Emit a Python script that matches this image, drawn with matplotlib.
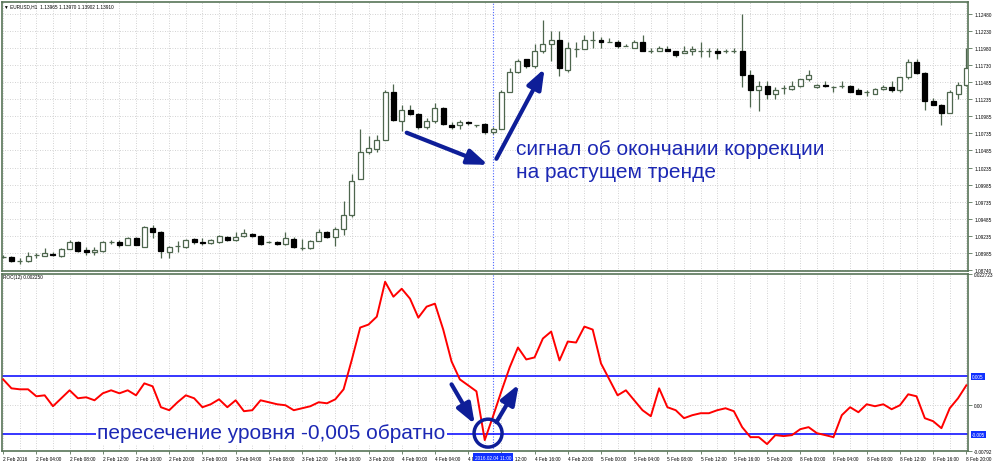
import numpy as np
import matplotlib.pyplot as plt
from matplotlib.patches import Ellipse
from matplotlib.transforms import blended_transform_factory, Bbox

plt.rcParams['font.family'] = ['Liberation Sans', 'DejaVu Sans']

# EURUSD H1 candles, 2 Feb 2016 00:00 .. 8 Feb 2016 20:00
opens = [1.0893, 1.0893, 1.0887, 1.0887, 1.0896, 1.0895, 1.0897, 1.0895, 1.0905, 1.0915,
         1.0903, 1.0900, 1.0902, 1.0915, 1.0915, 1.0911, 1.0921, 1.0908, 1.0936, 1.0930,
         1.0900, 1.0909, 1.0908, 1.0920, 1.0915, 1.0914, 1.0915, 1.0922, 1.0918, 1.0924,
         1.0927, 1.0924, 1.0915, 1.0915, 1.0912, 1.0920, 1.0906, 1.0906, 1.0917, 1.0930,
         1.0922, 1.0934, 1.0955, 1.1007, 1.1046, 1.1051, 1.1064, 1.1134, 1.1092, 1.1108,
         1.1102, 1.1082, 1.1092, 1.1111, 1.1086, 1.1085, 1.1090, 1.1086, 1.1087, 1.1076,
         1.1080, 1.1134, 1.1163, 1.1181, 1.1171, 1.1193, 1.1203, 1.1210, 1.1166, 1.1197,
         1.1197, 1.1210, 1.1210, 1.1207, 1.1206, 1.1200, 1.1198, 1.1206, 1.1194, 1.1193,
         1.1197, 1.1194, 1.1190, 1.1193, 1.1194, 1.1193, 1.1194, 1.1194, 1.1194, 1.1194,
         1.1159, 1.1136, 1.1143, 1.1130, 1.1140, 1.1138, 1.1143, 1.1152, 1.1141, 1.1144,
         1.1141, 1.1143, 1.1143, 1.1136, 1.1133, 1.1131, 1.1138, 1.1141, 1.1136, 1.1155,
         1.1178, 1.1162, 1.1121, 1.1115, 1.1103, 1.1131, 1.1144]
highs = [1.0896, 1.0895, 1.0892, 1.0900, 1.0899, 1.0906, 1.0900, 1.0906, 1.0918, 1.0917,
         1.0908, 1.0908, 1.0917, 1.0918, 1.0918, 1.0922, 1.0922, 1.0939, 1.0940, 1.0931,
         1.0909, 1.0917, 1.0920, 1.0921, 1.0921, 1.0920, 1.0925, 1.0924, 1.0930, 1.0934,
         1.0928, 1.0925, 1.0917, 1.0917, 1.0930, 1.0922, 1.0920, 1.0918, 1.0934, 1.0931,
         1.0937, 1.0975, 1.1014, 1.1080, 1.1070, 1.1071, 1.1136, 1.1146, 1.1114, 1.1114,
         1.1103, 1.1096, 1.1117, 1.1112, 1.1090, 1.1093, 1.1092, 1.1086, 1.1089, 1.1082,
         1.1136, 1.1168, 1.1182, 1.1182, 1.1204, 1.1238, 1.1222, 1.1222, 1.1207, 1.1207,
         1.1216, 1.1222, 1.1214, 1.1213, 1.1209, 1.1204, 1.1209, 1.1216, 1.1198, 1.1201,
         1.1200, 1.1194, 1.1200, 1.1200, 1.1207, 1.1198, 1.1198, 1.1197, 1.1198, 1.1247,
         1.1165, 1.1150, 1.1149, 1.1141, 1.1144, 1.1149, 1.1153, 1.1165, 1.1146, 1.1149,
         1.1143, 1.1149, 1.1144, 1.1139, 1.1136, 1.1140, 1.1144, 1.1150, 1.1156, 1.1182,
         1.1181, 1.1163, 1.1125, 1.1116, 1.1136, 1.1148, 1.1198]
lows = [1.0892, 1.0886, 1.0883, 1.0886, 1.0892, 1.0895, 1.0895, 1.0893, 1.0905, 1.0900,
        1.0896, 1.0896, 1.0900, 1.0912, 1.0908, 1.0911, 1.0911, 1.0908, 1.0921, 1.0892,
        1.0892, 1.0900, 1.0906, 1.0912, 1.0911, 1.0912, 1.0914, 1.0917, 1.0917, 1.0922,
        1.0922, 1.0911, 1.0914, 1.0911, 1.0911, 1.0906, 1.0903, 1.0905, 1.0917, 1.0921,
        1.0909, 1.0925, 1.0952, 1.1007, 1.1043, 1.1046, 1.1064, 1.1092, 1.1077, 1.1100,
        1.1080, 1.1080, 1.1089, 1.1086, 1.1079, 1.1080, 1.1086, 1.1083, 1.1073, 1.1073,
        1.1079, 1.1133, 1.1162, 1.1169, 1.1169, 1.1190, 1.1179, 1.1157, 1.1163, 1.1185,
        1.1197, 1.1198, 1.1198, 1.1206, 1.1198, 1.1200, 1.1198, 1.1194, 1.1191, 1.1193,
        1.1193, 1.1185, 1.1190, 1.1188, 1.1184, 1.1184, 1.1182, 1.1190, 1.1191, 1.1141,
        1.1112, 1.1106, 1.1124, 1.1124, 1.1130, 1.1137, 1.1141, 1.1150, 1.1140, 1.1141,
        1.1134, 1.1140, 1.1133, 1.1130, 1.1128, 1.1130, 1.1137, 1.1134, 1.1134, 1.1153,
        1.1160, 1.1108, 1.1114, 1.1086, 1.1103, 1.1124, 1.1142]
closes = [1.0893, 1.0887, 1.0887, 1.0895, 1.0896, 1.0899, 1.0896, 1.0905, 1.0915, 1.0902,
          1.0900, 1.0903, 1.0915, 1.0915, 1.0911, 1.0921, 1.0911, 1.0937, 1.0930, 1.0902,
          1.0908, 1.0909, 1.0918, 1.0915, 1.0914, 1.0918, 1.0924, 1.0918, 1.0922, 1.0928,
          1.0924, 1.0912, 1.0915, 1.0912, 1.0921, 1.0908, 1.0906, 1.0917, 1.0930, 1.0922,
          1.0934, 1.0955, 1.1004, 1.1046, 1.1052, 1.1064, 1.1134, 1.1093, 1.1108, 1.1102,
          1.1082, 1.1092, 1.1111, 1.1087, 1.1083, 1.1090, 1.1089, 1.1086, 1.1076, 1.1080,
          1.1134, 1.1163, 1.1179, 1.1171, 1.1193, 1.1203, 1.1210, 1.1168, 1.1198, 1.1197,
          1.1210, 1.1210, 1.1206, 1.1207, 1.1200, 1.1200, 1.1206, 1.1194, 1.1194, 1.1198,
          1.1194, 1.1188, 1.1193, 1.1196, 1.1194, 1.1193, 1.1191, 1.1194, 1.1194, 1.1159,
          1.1136, 1.1143, 1.1130, 1.1137, 1.1140, 1.1143, 1.1152, 1.1158, 1.1144, 1.1143,
          1.1141, 1.1143, 1.1134, 1.1131, 1.1133, 1.1138, 1.1141, 1.1136, 1.1155, 1.1178,
          1.1162, 1.1121, 1.1115, 1.1103, 1.1133, 1.1144, 1.1169]

# ROC(12) indicator
roc = [0.00448, 0.00293, 0.00276, 0.00276, 0.00155, 0.00172, -0.00017, 0.00121, 0.00259, 0.00121,
       0.00138, 0.00086, 0.00207, 0.00259, 0.00207, 0.00259, 0.00172, 0.00379, 0.00328, -0.00034,
       -0.00086, 0.00052, 0.00172, 0.00121, -0.00034, 0.00017, 0.00103, -0.00034, 0.00086, -0.00103,
       -0.00086, 0.00086, 0.00052, 0.00017, 0.0, -0.00086, -0.00052, -0.00017, 0.00052, 0.00034,
       0.00103, 0.00276, 0.00793, 0.01345, 0.01397, 0.01534, 0.02138, 0.01879, 0.02017, 0.01845,
       0.01517, 0.01707, 0.01759, 0.01310, 0.00759, 0.00448, 0.00345, 0.00241, -0.00603, -0.00190,
       0.00241, 0.00655, 0.01000, 0.00793, 0.00828, 0.01155, 0.01276, 0.00776, 0.01103, 0.01086,
       0.01362, 0.01310, 0.00724, 0.00448, 0.00172, 0.00259, 0.00086, -0.00086, -0.00190, 0.00293,
       -0.00034, -0.00086, -0.00224, -0.00172, -0.00138, -0.00138, -0.00086, -0.00052, -0.00103, -0.00379,
       -0.00552, -0.00552, -0.00672, -0.00517, -0.00534, -0.00517, -0.00414, -0.00379, -0.00483, -0.00517,
       -0.00552, -0.00172, -0.00034, -0.00121, 0.00017, -0.00017, 0.00017, -0.00069, 0.0, 0.00190,
       0.00155, -0.00224, -0.00276, -0.00397, -0.00052, 0.00121, 0.00345]

price_ticks = [1.08740, 1.08985, 1.09235, 1.09485, 1.09735, 1.09985, 1.10235, 1.10485,
               1.10735, 1.10985, 1.11235, 1.11485, 1.11730, 1.11980, 1.12230, 1.12480]
time_labels = ['2 Feb 2016', '2 Feb 04:00', '2 Feb 08:00', '2 Feb 12:00', '2 Feb 16:00', '2 Feb 20:00',
               '3 Feb 00:00', '3 Feb 04:00', '3 Feb 08:00', '3 Feb 12:00', '3 Feb 16:00', '3 Feb 20:00',
               '4 Feb 00:00', '4 Feb 04:00', '4 Feb 08:00', '4 Feb 12:00', '4 Feb 16:00', '4 Feb 20:00',
               '5 Feb 00:00', '5 Feb 04:00', '5 Feb 08:00', '5 Feb 12:00', '5 Feb 16:00', '5 Feb 20:00',
               '8 Feb 00:00', '8 Feb 04:00', '8 Feb 08:00', '8 Feb 12:00', '8 Feb 16:00', '8 Feb 20:00']
roc_levels = [0.005, -0.005]
roc_top, roc_bottom = 0.022723, -0.00792
price_top, price_bottom = 1.12655, 1.08728
cursor_bar = 59
cursor_label = '2016.02.04 11:00'

frame_c = '#587458'
candle_c = '#4e664e'
grid_c = '#c4c4c4'
txt_c = '#1c28b4'
arrow_c = '#0e1e98'
fs = 3.4

W, H = 996, 464


def box(x0, y0, x1, y1):
    return [x0 / W, 1 - y1 / H, (x1 - x0) / W, (y1 - y0) / H]


fig = plt.figure(figsize=(W / 100, H / 100), dpi=100)
fig.patch.set_facecolor('white')
ax = fig.add_axes(box(1.5, 2.5, 968, 272))
ax2 = fig.add_axes(box(1.5, 275, 968, 452))

x = np.arange(len(opens))
o, h, l, c = (np.array(a) for a in (opens, highs, lows, closes))
xlim = (-0.2, 116.2)

for a in (ax, ax2):
    a.set_xlim(*xlim)
    for s in a.spines.values():
        s.set_color(frame_c)
        s.set_linewidth(1.2)
    a.yaxis.tick_right()
    a.tick_params(axis='y', length=3, width=0.6, pad=1.5, labelsize=fs, color=frame_c)

ax.set_ylim(price_bottom, price_top)
ax2.set_ylim(roc_bottom, roc_top)

# grid
ax.vlines(np.arange(0, 117, 2), price_bottom, price_top, colors=grid_c,
          linestyles=(0, (1, 2)), lw=0.6, zorder=0)
ax.hlines(price_ticks, *xlim, colors=grid_c, linestyles=(0, (1, 2)), lw=0.6, zorder=0)
ax2.vlines(np.arange(0, 117, 2), roc_bottom, roc_top, colors=grid_c,
           linestyles=(0, (1, 2)), lw=0.6, zorder=0)
ax2.axhline(0, color=grid_c, ls=(0, (1, 2)), lw=0.6, zorder=0)

# candles
up = c >= o
lo = np.minimum(o, c)
hgt = np.abs(c - o)
ax.vlines(x, l, h, color=candle_c, lw=0.9, zorder=2)
ax.bar(x[up], hgt[up], 0.6, lo[up], facecolor='white', edgecolor=candle_c, lw=0.9, zorder=3)
ax.bar(x[~up], hgt[~up], 0.6, lo[~up], facecolor='black', edgecolor='black', lw=0.9, zorder=3)

ax.set_yticks(price_ticks)
ax.set_yticklabels([f'{v:.5f}' for v in price_ticks])
ax.tick_params(axis='x', bottom=False, labelbottom=False)

# ROC panel
for lv in roc_levels:
    ax2.axhline(lv, color='#0000ff', lw=1.1, zorder=2)
ax2.plot(x, roc, color='#ff0000', lw=1.4, zorder=4)
ax2.set_yticks([roc_bottom, 0.0, roc_top])
ax2.set_yticklabels(['-0.00792', '0.00', '0.022723'])
ax2.set_xticks(np.arange(0, 117, 4))
ax2.set_xticklabels(time_labels, ha='left')
ax2.tick_params(axis='x', length=2, width=0.6, pad=1.5, labelsize=fs, color=frame_c)

# the cursor date box hides parts of the two neighbouring time labels
box_x0, box_x1 = 473, 513
for lab, pos in zip(ax2.get_xticklabels(), np.arange(0, 117, 4)):
    if pos == cursor_bar - 3:
        lab.set_clip_box(Bbox.from_extents(0, 0, box_x0, H))
        lab.set_clip_on(True)
    elif pos == cursor_bar + 1:
        lab.set_clip_box(Bbox.from_extents(box_x1, 0, W, H))
        lab.set_clip_on(True)

trans = blended_transform_factory(ax2.transAxes, ax2.transData)
for lv in roc_levels:
    ax2.text(1.004, lv, f'{lv:.3f}', transform=trans, fontsize=fs, color='white',
             va='center', ha='left', clip_on=False,
             bbox=dict(facecolor='#1030ff', edgecolor='none', pad=0.8))

# cursor
for a in (ax, ax2):
    a.axvline(cursor_bar, color='#4a64ff', lw=0.8, ls=(0, (1, 1.5)), zorder=1)
ax2.text(cursor_bar, -0.034, cursor_label, transform=blended_transform_factory(ax2.transData, ax2.transAxes),
         fontsize=fs, color='white', ha='center', va='center', clip_on=False, zorder=10,
         bbox=dict(facecolor='#1030ff', edgecolor='none', pad=1.2))

fig.text(4 / W, 1 - 7 / H, '▼ EURUSD,H1  1.13965 1.13970 1.13902 1.13910', fontsize=fs,
         va='center', ha='left')
fig.text(3 / W, 1 - 278 / H, 'ROC(12) 0.002250', fontsize=fs, va='center', ha='left')

# annotations
arrow = dict(arrowstyle='-|>,head_width=0.45,head_length=1.2', color=arrow_c, lw=3,
             shrinkA=0, shrinkB=0, mutation_scale=10)
ax.annotate('', xy=(58.4, 1.10275), xytext=(48.6, 1.10743), arrowprops=arrow, zorder=6)
ax.annotate('', xy=(65.2, 1.11677), xytext=(59.4, 1.10363), arrowprops=arrow, zorder=6)
ax2.annotate('', xy=(56.8, -0.00328), xytext=(54.0, 0.00362), arrowprops=arrow, zorder=6)
ax2.annotate('', xy=(62.1, 0.00362), xytext=(59.4, -0.00293), arrowprops=arrow, zorder=6)
ax2.add_patch(Ellipse((58.4, -0.00483), 3.37, 0.00483, fill=False, ec=arrow_c, lw=2.5,
                      zorder=6, clip_on=False))

fig.text(516 / W, 1 - 140 / H, 'сигнал об окончании коррекции\nна растущем тренде',
         fontsize=15, color=txt_c, va='top', ha='left', linespacing=1.3)
fig.text(97 / W, 1 - 434 / H, 'пересечение уровня -0,005 обратно', fontsize=15, color=txt_c,
         va='center', ha='left', bbox=dict(facecolor='white', edgecolor='none', pad=1))

fig.savefig('out.png', dpi=100)
